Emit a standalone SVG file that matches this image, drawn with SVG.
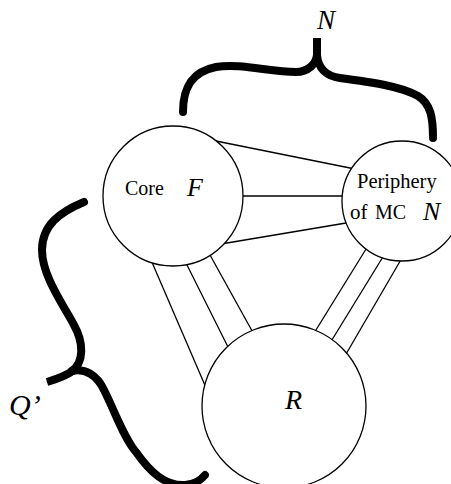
<svg xmlns="http://www.w3.org/2000/svg" width="451" height="484" viewBox="0 0 451 484">
<style>
.bg{fill:#fff}
.node{fill:#fff;stroke:#000;stroke-width:1.3}
.edge{stroke:#000;stroke-width:1.3;fill:none}
.brace{stroke:#000;stroke-width:8;fill:none;stroke-linecap:round;stroke-linejoin:round}
.tip{stroke:#000;stroke-width:8;fill:none;stroke-linecap:butt}
.t{font-family:"Liberation Serif","Times New Roman",serif;fill:#000}
.i{font-style:italic}
</style>
<rect class="bg" x="0" y="0" width="451" height="484"/>
<g id="connectors">
<line class="edge" x1="206" y1="139" x2="360" y2="170"/>
<line class="edge" x1="235" y1="196" x2="352" y2="196"/>
<line class="edge" x1="215" y1="245" x2="355" y2="221.5"/>
<line class="edge" x1="148" y1="253" x2="207" y2="390"/>
<line class="edge" x1="182" y1="255" x2="232" y2="355"/>
<line class="edge" x1="205" y1="246" x2="256" y2="338"/>
<line class="edge" x1="371" y1="241" x2="311" y2="338"/>
<line class="edge" x1="389" y1="247" x2="327" y2="348"/>
<line class="edge" x1="406" y1="251" x2="342" y2="361"/>
</g>
<g id="core">
<circle class="node" cx="173" cy="196" r="70"/>
<text class="t" x="125" y="195" font-size="20">Core</text>
<text class="t i" x="187" y="196" font-size="26">F</text>
</g>
<g id="periphery">
<circle class="node" cx="402" cy="201" r="60"/>
<text class="t" x="357" y="188" font-size="20.5">Periphery</text>
<text class="t" x="350" y="219" font-size="21">of</text>
<text class="t" x="375" y="219" font-size="20">MC</text>
<text class="t i" x="423" y="220" font-size="26">N</text>
</g>
<g id="r">
<circle class="node" cx="284" cy="406" r="82"/>
<text class="t i" x="285" y="409" font-size="28">R</text>
</g>
<g id="brace-n">
<path class="brace" d="M183,112 C183,90 190,72 216,67 C240,63 270,72 296,72 C308,72 316,64 317,55"/>
<path class="brace" d="M317,55 C318,68 326,76 340,78 C370,82 400,86 418,96 C431,104 433,118 433,138"/>
<path class="tip" d="M317,60 V38"/>
<text class="t i" x="317" y="29" font-size="27">N</text>
</g>
<g id="brace-q">
<path class="brace" d="M84,202 C60,212 42,225 42,250 C42,275 62,303 74,325 C84,343 84,362 72,371"/>
<path class="brace" d="M72,371 C85,368 97,375 104,390 C116,414 124,438 136,452 C150,472 165,486 185,485 C195,484 200,481 205,475"/>
<path class="tip" d="M74,370 C66,376 57,379 47,382"/>
<text class="t i" x="9" y="415" font-size="30">Q’</text>
</g>
</svg>
